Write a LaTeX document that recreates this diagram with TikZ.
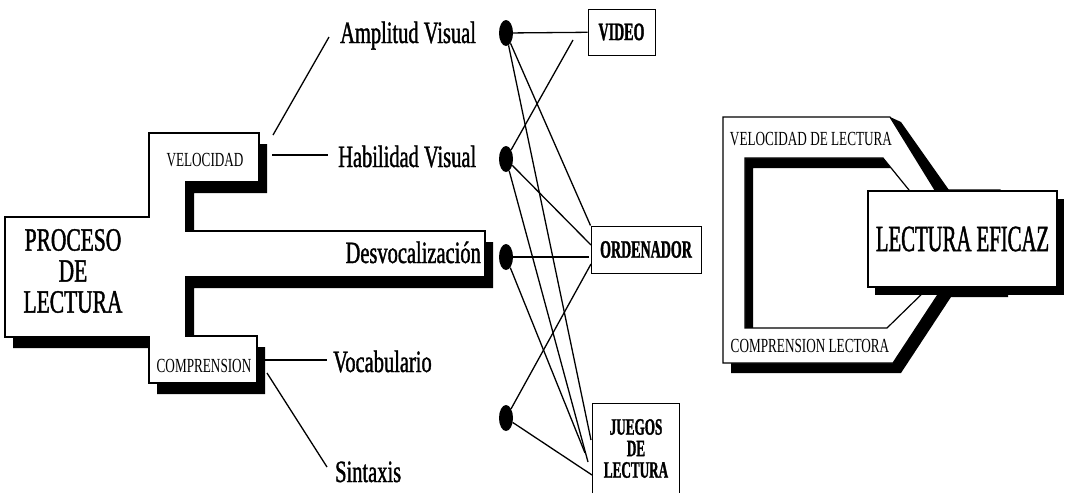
\documentclass[tikz,border=0pt]{standalone}
\usepackage{fontspec}
\setmainfont{Liberation Serif}
\newfontfamily\fA[FakeStretch=0.66]{Liberation Serif}
\newfontfamily\fAh[FakeStretch=0.66,FakeBold=1.2]{Liberation Serif}
\newfontfamily\fB[FakeStretch=0.56]{Liberation Serif}
\newfontfamily\fBh[FakeStretch=0.56,FakeBold=1.2]{Liberation Serif}
\usetikzlibrary{shapes.geometric,shadows}
\begin{document}
\begin{tikzpicture}[x=1pt,y=-1pt,
  big/.style={font=\fAh\fontsize{31}{32}\selectfont, inner sep=0},
  small/.style={font=\fA\fontsize{20}{21}\selectfont, inner sep=0},
  outline/.style={draw=black, line width=1.2pt, fill=white},
  conn/.style={line width=1.3pt},
  dot/.style={ellipse, fill=black, minimum width=14pt, minimum height=26pt, inner sep=0},
  mbox/.style={draw, line width=1pt, inner sep=0, fill=white}
]
\useasboundingbox (0,0) rectangle (1066,493);

% ---------- left shape ----------
\def\shpLeft{(5,217) -- (149,217) -- (149,133) -- (259,133) -- (259,182) -- (186,182) -- (186,231) -- (485,231) -- (485,277) -- (186,277) -- (186,336) -- (257,336) -- (257,383) -- (149,383) -- (149,337) -- (5,337) -- cycle}
\fill[black, shift={(8,11)}] \shpLeft;
\path[outline] \shpLeft;

\node[inner sep=0, align=center, font=\fAh\fontsize{32.5}{31}\selectfont] (proc) at (73,271) {PROCESO\\DE\\LECTURA};
\node[small, anchor=base] (vel) at (205,166) {VELOCIDAD};
\node[small, anchor=base] (comp) at (204,372) {COMPRENSION};

\node[big, anchor=base west] (amp) at (340,43) {Amplitud Visual};
\node[big, anchor=base west] (hab) at (338,167) {Habilidad Visual};
\node[big, anchor=base east] (des) at (481,263) {Desvocalización};
\node[big, anchor=base west] (voc) at (333,372) {Vocabulario};
\node[big, anchor=base west] (sin) at (335,482) {Sintaxis};

\coordinate (a0) at (273,135); \coordinate (a1) at (329,37);
\coordinate (h0) at (272,155); \coordinate (h1) at (328,155);
\coordinate (v0) at (262,360); \coordinate (v1) at (327,360);
\coordinate (s0) at (267,373); \coordinate (s1) at (327,467);
\draw[conn] (a0) -- (a1);
\draw[conn] (h0) -- (h1);
\draw[conn] (v0) -- (v1);
\draw[conn] (s0) -- (s1);

% ---------- middle ----------
\node[dot] (d1) at (506,33) {};
\node[dot] (d2) at (506,159) {};
\node[dot] (d3) at (506,257) {};
\node[dot] (d4) at (506,418) {};

\node[mbox, minimum width=67pt, minimum height=46pt, font=\fBh\bfseries\fontsize{25}{25}\selectfont] (video) at (621.5,32) {VIDEO};
\node[mbox, minimum width=110pt, minimum height=47pt, font=\fBh\bfseries\fontsize{25}{25}\selectfont] (ord) at (646,249.5) {ORDENADOR};
\draw[line width=1pt] (592,493) -- (592,403) -- (679,403) -- (679,493);
\node[inner sep=0, align=center, font=\fBh\bfseries\fontsize{23.5}{21.5}\selectfont] (jue) at (636,448.5) {JUEGOS\\DE\\LECTURA};

\coordinate (vv2) at (573,40);
\coordinate (o2) at (591,245);
\coordinate (o3) at (589,257);
\coordinate (o4) at (591,264);
\coordinate (j1) at (591,440);
\coordinate (j2) at (588,462);
\coordinate (j3) at (585,453);
\coordinate (j4) at (592,475);

\draw[conn] (d1) -- (video);
\draw[conn] (d1) -- (ord.north west);
\draw[conn] (d1) -- (j1);
\draw[conn] (d2) -- (vv2);
\draw[conn] (d2) -- (o2);
\draw[conn] (d2) -- (j2);
\draw[conn] (d3) -- (o3);
\draw[conn] (d3) -- (j3);
\draw[conn] (d4) -- (o4);
\draw[conn] (d4) -- (j4);

% ---------- right shape ----------
\def\bandOuter{(723,117) -- (890,117) -- (935,190) -- (1000,190) -- (1000,287) -- (943,287) -- (893,363) -- (723,363) -- cycle}
\def\bandInner{(745,158) -- (883,158) -- (909,190) -- (929,287) -- (887,328) -- (745,328) -- cycle}
\fill[black, even odd rule, shift={(8,10)}] \bandOuter \bandInner;
\fill[black] (890,117) -- (901,122) -- (949,190) -- (935,190) -- cycle;
\path[outline, even odd rule] \bandOuter \bandInner;

\node[small, anchor=base] (vdl) at (811,145) {VELOCIDAD DE LECTURA};
\node[small, anchor=base] (cl) at (810,352) {COMPRENSION LECTORA};

\node[draw, line width=1.2pt, fill=white, minimum width=189pt, minimum height=96pt, inner sep=0,
  drop shadow={shadow xshift=7pt, shadow yshift=-8pt, opacity=1, fill=black},
  font=\fBh\fontsize{37}{37}\selectfont] (lef) at (962.5,239) {LECTURA EFICAZ};
\end{tikzpicture}
\end{document}
